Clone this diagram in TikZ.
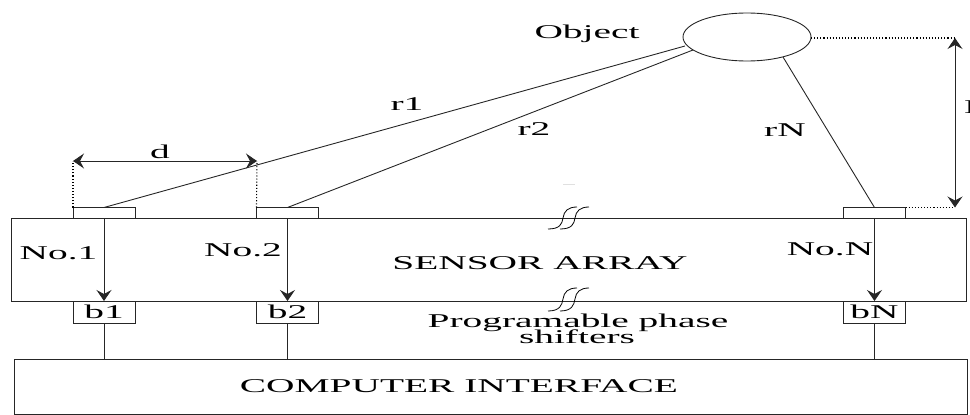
\documentclass[tikz,border=0pt]{standalone}
\usepackage{graphicx}
\usepackage{fontspec}
\setmainfont{Liberation Serif}
\usetikzlibrary{shapes.geometric,arrows.meta}
\newcommand{\st}[1]{\scalebox{2.02}[1]{#1}}
\tikzset{
  box/.style={draw=black!85,line width=0.9pt,inner sep=0pt,outer sep=0pt,font=\fontsize{19.5}{19.5}\selectfont},
  lbl/.style={inner sep=0pt,outer sep=0pt,font=\fontsize{19.5}{19.5}\selectfont,text=black},
  wire/.style={draw=black!85,line width=0.9pt},
  tipstyle/.style={},
  sig/.style={wire,-{Stealth[length=11pt,width=15pt,inset=4pt,line width=1pt]}},
  dim/.style={wire,{Stealth[length=11pt,width=15pt,inset=4pt,line width=1pt]}-{Stealth[length=11pt,width=15pt,inset=4pt,line width=1pt]}},
  guide/.style={draw=black,line width=1.1pt,dotted},
  brk/.style={draw=black,line width=0.8pt}
}
\begin{document}
\begin{tikzpicture}[x=1pt,y=-1pt]
\useasboundingbox (0,0) rectangle (970,415);
% main boxes
\node[box,minimum width=955pt,minimum height=83pt] (array) at (488.5,259.5) {};
\node[box,minimum width=953pt,minimum height=55pt] (comp) at (490.5,386.5) {};
% sensors
\node[box,minimum width=62pt,minimum height=10.5pt] (s1) at (104,212.75) {};
\node[box,minimum width=62pt,minimum height=10.5pt] (s2) at (287.5,212.75) {};
\node[box,minimum width=62pt,minimum height=10.5pt] (sN) at (874.5,212.75) {};
% phase shifters
\node[box,minimum width=62pt,minimum height=22pt] (b1) at (104,312) {\st{b1}};
\node[box,minimum width=62pt,minimum height=22pt] (b2) at (287.5,312) {\st{b2}};
\node[box,minimum width=62pt,minimum height=22pt] (bN) at (874.5,312) {\st{bN}};
% object
\node[ellipse,draw=black!85,line width=0.9pt,minimum width=128pt,minimum height=48pt,inner sep=0pt,outer sep=0pt] (obj) at (747,37) {};
\coordinate (o1) at (685,46);
\coordinate (o2) at (693,50);
\coordinate (oN) at (783,57);
\coordinate (oR) at (811,38);
\coordinate (hT) at (955,38);
\coordinate (hB) at (955,207.5);
\coordinate (dL) at (73,161);
\coordinate (dR) at (257,161);
% rays
\draw[wire] (s1.north) -- (o1);
\draw[wire] (s2.north) -- (o2);
\draw[wire] (sN.north) -- (oN);
% signal arrows
\draw[sig] (s1.south) -- (b1.north);
\draw[sig] (s2.south) -- (b2.north);
\draw[sig] (sN.south) -- (bN.north);
% to computer
\draw[wire] (b1.south) -- (b1.south |- comp.north);
\draw[wire] (b2.south) -- (b2.south |- comp.north);
\draw[wire] (bN.south) -- (bN.south |- comp.north);
% dimensions
\draw[dim] (dL) -- (dR);
\draw[dim] (hT) -- (hB);
\draw[guide] (s1.north west) -- (dL);
\draw[guide] (s2.north west) -- (dR);
\draw[guide] (oR) -- (hT);
\draw[guide] (sN.north east) -- (hB);
% break marks
\draw[brk] (548,229) .. controls (560,229) and (562,224) .. (563,218) .. controls (564,211) and (568,207) .. (577,207);
\draw[brk] (560,229) .. controls (572,229) and (574,224) .. (575,218) .. controls (576,211) and (580,207) .. (589,207);
\draw[brk] (548,311) .. controls (560,311) and (562,305) .. (563,299) .. controls (564,292) and (568,288) .. (577,288);
\draw[brk] (560,311) .. controls (572,311) and (574,305) .. (575,299) .. controls (576,292) and (580,288) .. (589,288);
\draw[draw=black!12,line width=0.8pt] (563,184.5) -- (575,184.5);
% labels
\node[lbl] (tobj) at (587,34) {\st{Object}};
\node[lbl] (tr1) at (407,104) {\st{r1}};
\node[lbl] (tr2) at (534,129) {\st{r2}};
\node[lbl] (trN) at (785,130) {\st{rN}};
\node[lbl] (td) at (160,152) {\st{d}};
\node[lbl] (tno1) at (58.5,253) {\st{No.1}};
\node[lbl] (tno2) at (243,250) {\st{No.2}};
\node[lbl] (tnoN) at (830,249) {\st{No.N}};
\node[lbl] (tarr) at (540,263) {\st{SENSOR ARRAY}};
\node[lbl] (tps1) at (578,323) {\st{Programable phase}};
\node[lbl] (tps2) at (577,337) {\st{shifters}};
\node[lbl] (tcomp) at (459,386) {\st{COMPUTER INTERFACE}};
\node[lbl,anchor=west] (tL) at (964,107) {\st{L}};
\end{tikzpicture}
\end{document}
